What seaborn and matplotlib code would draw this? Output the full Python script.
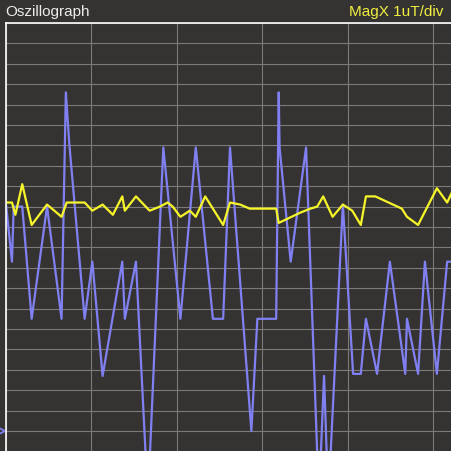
import numpy as np
import pandas as pd
import seaborn as sns
import matplotlib
matplotlib.use("Agg")
import matplotlib.pyplot as plt

# time axis: 10 units per division, field in uT (1 uT per division)
blue_t = [0.0, 0.7, 0.9, 1.9, 3.0, 4.8, 6.5, 7.0, 7.4, 9.2, 10.1, 11.3, 13.6, 13.9,
          15.2, 16.6, 18.4, 20.4, 22.2, 24.2, 25.4, 26.2, 28.7, 29.4, 31.6, 31.9,
          32.0, 33.3, 35.1, 36.6, 37.2, 37.7, 39.4, 40.6, 41.5, 42.1, 43.4, 44.9,
          46.7, 46.9, 48.2, 49.0, 50.4, 51.6, 52.5]
blue_v = [11.1, 8.3, 11.0, 11.0, 5.5, 11.0, 5.5, 16.6, 14.1, 5.5, 8.3, 2.7, 8.3, 5.5,
          8.3, -3.4, 13.9, 5.5, 13.9, 5.5, 5.5, 13.9, 0.0, 5.5, 5.5, 16.6,
          13.9, 8.3, 13.9, -3.4, 2.7, -3.4, 11.1, 2.8, 2.8, 5.5, 2.8, 8.3,
          2.8, 5.5, 2.8, 8.3, 2.8, 8.3, 8.3]

yellow_t = [0.0, 0.7, 1.1, 1.9, 3.0, 4.8, 6.5, 7.1, 9.2, 10.1, 11.3, 12.5, 13.6, 13.9,
            15.2, 16.8, 18.0, 18.9, 19.5, 20.4, 21.5, 22.2, 23.3, 25.4, 26.2, 27.4,
            28.5, 31.6, 31.9, 34.4, 35.6, 36.4, 37.1, 38.2, 39.4, 40.5, 41.5, 42.1,
            43.2, 46.3, 46.9, 48.2, 50.4, 51.6, 52.5]
yellow_v = [11.2, 11.2, 10.6, 12.1, 10.1, 11.1, 10.5, 11.2, 11.2, 10.8, 11.1, 10.6, 11.5, 10.8,
            11.5, 10.8, 11.0, 11.2, 11.0, 10.5, 10.8, 10.5, 11.5, 10.1, 11.2, 11.1,
            10.9, 10.9, 10.2, 10.7, 10.9, 11.0, 11.5, 10.5, 11.1, 10.8, 10.1, 11.5,
            11.5, 10.9, 10.5, 10.1, 11.9, 11.2, 12.0]

bg = '#353331'
blue = '#8080f2'
yellow = '#f5f52a'

sns.set_style("dark")
plt.rcParams['font.family'] = ['Liberation Sans', 'DejaVu Sans']

fig = plt.figure(figsize=(4.51, 4.51), dpi=100, facecolor=bg)
ax = fig.add_axes([6/451, 0, 445/451, 428/451])
ax.set_facecolor(bg)

sns.lineplot(x=blue_t, y=blue_v, color=blue, lw=1.6, sort=False, estimator=None, ax=ax)
sns.lineplot(x=yellow_t, y=yellow_v, color=yellow, lw=1.6, sort=False, estimator=None, ax=ax)
# zero level marker of the channel
ax.plot([-0.5], [0], marker='>', ms=5, mfc='none', mec=blue, mew=1.3, clip_on=False)

ax.set_xlim(0, 52.05)
ax.set_ylim(-0.98, 20)
ax.set_xticks(np.arange(0, 60, 10))
ax.set_yticks(np.arange(0, 21, 1))
ax.grid(True, color='#7c7b79', lw=0.8)
ax.set_axisbelow(True)
ax.tick_params(length=0, labelbottom=False, labelleft=False)
ax.set_xlabel(''); ax.set_ylabel('')
for s in ['right', 'bottom']:
    ax.spines[s].set_visible(False)
for s in ['left', 'top']:
    ax.spines[s].set_visible(True)
    ax.spines[s].set_color('white')
    ax.spines[s].set_linewidth(1.2)

fig.text(5/451, 1 - 12/451, 'Oszillograph', color='#ececec', fontsize=11, va='center', ha='left')
fig.text(443/451, 1 - 12/451, 'MagX 1uT/div', color='#f0f040', fontsize=11, va='center', ha='right')

fig.savefig('out.png', dpi=100, facecolor=bg)
